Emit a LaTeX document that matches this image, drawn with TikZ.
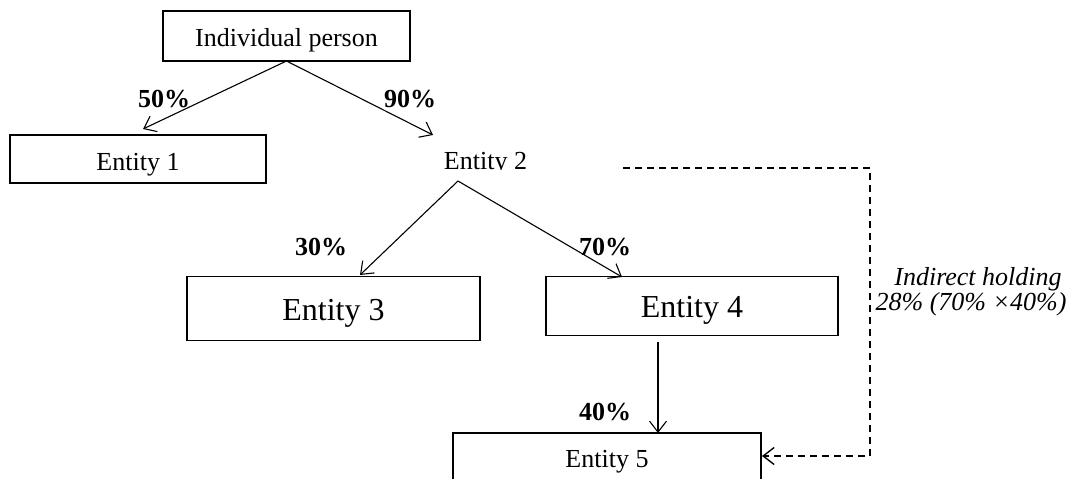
\documentclass[tikz,border=0pt]{standalone}
\usepackage{fontspec}
\setmainfont{Liberation Serif}
\usetikzlibrary{arrows.meta}
\begin{document}
\begin{tikzpicture}[x=1pt,y=-1pt,
  every node/.style={inner sep=0pt,outer sep=0pt},
  ebox/.style={draw,line width=1.1pt,minimum width=#1,font=\fontsize{26}{30}\selectfont,text depth=0pt},
  bigbox/.style={draw,line width=1.1pt,minimum width=#1,font=\fontsize{32}{36}\selectfont,text depth=0pt},
  pct/.style={font=\fontsize{26}{30}\selectfont\bfseries,anchor=base},
  lbl/.style={font=\fontsize{26}{30}\selectfont\itshape,anchor=base},
  conn/.style={line width=1.1pt,-{Straight Barb[length=11pt,width=17pt,line width=1.1pt]}},
  dconn/.style={line width=1.4pt,dash pattern=on 7pt off 5pt,-{Straight Barb[length=11pt,width=17pt,line width=1.4pt]}}]
\useasboundingbox (0,0) rectangle (1071,479);
\clip (0,0) rectangle (1071,479);
% nodes
\node[ebox=247pt,minimum height=50pt,text height=20pt] (ip) at (286.5,36) {Individual person};
\node[ebox=256pt,minimum height=48pt,text height=22pt] (e1) at (138,159) {Entity 1};
\begin{scope}
\clip (400,140) rectangle (570,169.5);
\node[font=\fontsize{26}{30}\selectfont,anchor=base] (e2) at (485.5,169) {Entity 2};
\end{scope}
\node[bigbox=293pt,minimum height=64pt,text height=23pt] (e3) at (333.5,308.5) {Entity 3};
\node[bigbox=292pt,minimum height=59pt,text height=22pt] (e4) at (692,306) {Entity 4};
\node[ebox=308pt,minimum height=48pt,text height=20pt] (e5) at (607,457) {Entity 5};
% coordinates
\coordinate (ips) at (286.5,61);
\coordinate (t1) at (143,129);
\coordinate (t2) at (433,135);
\coordinate (e2s) at (458,181);
\coordinate (t3) at (360,275);
\coordinate (t4) at (622,277);
\coordinate (e4s) at (658,342);
\coordinate (t5) at (658,433);
\coordinate (d0) at (623,168);
\coordinate (d1) at (870,168);
\coordinate (d2) at (870,456);
\coordinate (t6) at (762,456);
% connectors
\draw[conn] (ips) -- (t1);
\draw[conn] (ips) -- (t2);
\draw[conn] (e2s) -- (t3);
\draw[conn] (e2s) -- (t4);
\draw[conn] (e4s) -- (t5);
\draw[dconn] (d0) -- (d1) -- (d2) -- (t6);
% labels
\node[pct] (p50) at (164,107) {50\%};
\node[pct] (p90) at (410,107) {90\%};
\node[pct] (p30) at (321,255) {30\%};
\node[pct] (p70) at (605,255) {70\%};
\node[pct] (p40) at (605,420) {40\%};
\node[lbl] (l1) at (978,285) {Indirect holding};
\node[lbl] (l2) at (971,310) {28\% (70\% ×40\%)};
\end{tikzpicture}
\end{document}
